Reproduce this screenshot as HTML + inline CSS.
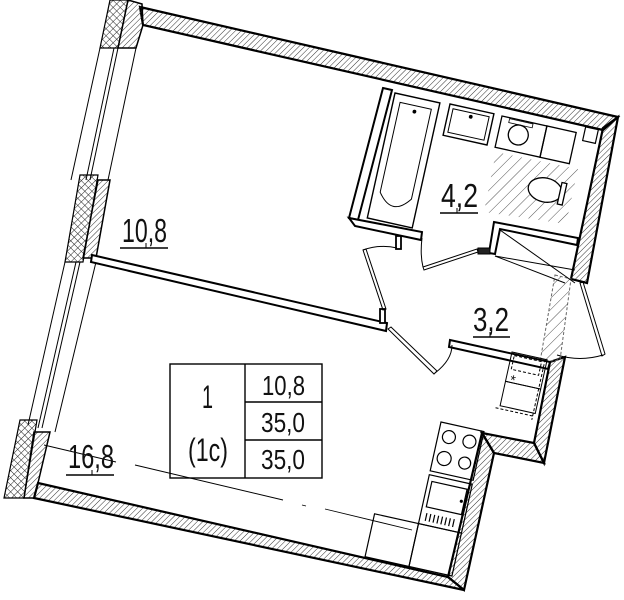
<!DOCTYPE html>
<html><head><meta charset="utf-8"><style>
html,body{margin:0;padding:0;background:#fff;}
svg{display:block;}
text{font-family:"Liberation Sans",sans-serif;fill:#111;}
</style></head><body>
<svg width="624" height="600" viewBox="0 0 624 600" xmlns="http://www.w3.org/2000/svg">
<defs>
<pattern id="h" width="4" height="4" patternUnits="userSpaceOnUse" patternTransform="rotate(45)">
<line x1="0" y1="0" x2="0" y2="4" stroke="#333" stroke-width="1"/></pattern>
<pattern id="x" width="5" height="5" patternUnits="userSpaceOnUse" patternTransform="rotate(45)">
<line x1="0" y1="0" x2="0" y2="5" stroke="#222" stroke-width="1"/><line x1="0" y1="0" x2="5" y2="0" stroke="#222" stroke-width="1"/></pattern>
<pattern id="hw" width="8" height="8" patternUnits="userSpaceOnUse" patternTransform="rotate(45)">
<line x1="0" y1="0" x2="0" y2="8" stroke="#555" stroke-width="1"/></pattern>
</defs>
<g stroke="#000" stroke-linejoin="miter">
<polygon points="140,7 618,117 603,130 143,25" fill="url(#h)" stroke-width="2.2"/>
<polygon points="618,117 587,283 571,279 603,128" fill="url(#h)" stroke-width="2.2"/>
<polygon points="565,357 544,463 534,443 550,362" fill="url(#h)" stroke-width="2.2"/>
<polygon points="482,433 534,443 544,463 494,453" fill="url(#h)" stroke-width="2.2"/>
<polygon points="482,433 494,453 464,590 448,577" fill="url(#h)" stroke-width="2.2"/>
<polygon points="38,483 448,577 464,590 34,498" fill="url(#h)" stroke-width="2.2"/>
<polygon points="110,0 128,0 118,48 100,48" fill="url(#x)" stroke-width="1.2"/>
<polygon points="128,0 142,4 143,25 136,48 118,48" fill="url(#h)" stroke-width="1.5"/>
<polygon points="80,175 98,175 83,262 65,262" fill="url(#x)" stroke-width="1.2"/>
<polygon points="98,180 110,180 96,258 83,258" fill="url(#h)" stroke-width="1.5"/>
<polygon points="20,420 37,420 24,498 4,498" fill="url(#x)" stroke-width="1.2"/>
<polygon points="34,432 50,432 38,483 34,498 24,498" fill="url(#h)" stroke-width="1.5"/>
<g stroke-width="1" fill="none">
<line x1="100" y1="48" x2="71" y2="180"/><line x1="136" y1="48" x2="108" y2="180"/>
<line x1="118" y1="48" x2="90" y2="180"/><line x1="114" y1="48" x2="86" y2="180"/>
<line x1="65" y1="262" x2="28" y2="425"/><line x1="96" y1="262" x2="55" y2="432"/>
<line x1="80" y1="262" x2="42" y2="428"/><line x1="76" y1="262" x2="38" y2="428"/>
</g>
<polygon points="555,275 571,279 560,360 540,362" fill="url(#hw)" stroke="#666" stroke-width="1" stroke-dasharray="3,2"/>
<polygon points="92,255 387,323 386,331 91,262" fill="#fff" stroke-width="2"/>
<polygon points="383,88 392,90 358,220 349,218" fill="#fff" stroke-width="2"/>
<polygon points="349,218 422,232 421,240 355,226" fill="#fff" stroke-width="2"/>
<rect x="396" y="236" width="5" height="13" fill="#fff" stroke-width="1.8"/>
<rect x="380" y="309" width="5" height="14" fill="#fff" stroke-width="1.8"/>
<polygon points="494,222 578,238 577,245 500,229 495,254 489,253" fill="#fff" stroke-width="2"/>
<rect x="478" y="248" width="12" height="6" fill="#222" stroke-width="1"/>
<polygon points="450,340 550,362 548,369 449,347" fill="#fff" stroke-width="2"/>
<g fill="none" stroke-width="1">
<polygon points="363,250 366,249 386,309 383,310"/>
<path d="M363,250 Q380,244 397,248"/>
<polygon points="388,329 391,327 437,371 434,374"/>
<path d="M435,373 Q452,360 452,345"/>
<polygon points="423,267 477,249 478,252 424,270"/>
<path d="M422,238 Q420,255 423,267"/>
<polygon points="580,283 583,282 605,354 602,356"/>
<path d="M603,355 Q580,362 557,355"/>
<line x1="500" y1="230" x2="575" y2="283"/>
<line x1="495" y1="256" x2="575" y2="270"/>
<line x1="495" y1="256" x2="565" y2="283"/>
</g>
<g transform="translate(395,93) rotate(12.5)" fill="none" stroke-width="1.4">
<rect x="0" y="0" width="46" height="128"/>
<path d="M7,8 L39,8 L39,100 Q23,122 7,100 Z" stroke-width="1"/>
<circle cx="23" cy="14" r="1.2" fill="#000"/>
</g>
<g transform="translate(450,104) rotate(12.5)" fill="none" stroke-width="1.4">
<rect x="0" y="0" width="45" height="32"/><rect x="4" y="4" width="37" height="24" stroke-width="1"/>
<circle cx="23" cy="8" r="1.2" fill="#000"/>
</g>
<polygon points="496,152 578,169 566,224 484,212" fill="url(#hw)" stroke="none"/>
<g transform="translate(502,116) rotate(12.5)" fill="none" stroke-width="1.3">
<rect x="0" y="0" width="46" height="32"/><rect x="46" y="0" width="30" height="32"/>
<circle cx="20" cy="15" r="10"/><rect x="8" y="1" width="24" height="4" stroke-width="0.8"/>
</g>
<g transform="translate(545,190) rotate(12.5)" fill="#fff" stroke-width="1.3">
<ellipse cx="0" cy="0" rx="17" ry="12"/><rect x="15" y="-11" width="5" height="22"/>
</g>
<rect x="584" y="128" width="13" height="14" fill="#fff" stroke-width="1.2" transform="rotate(12.5 590 135)"/>
<g transform="translate(441,422) rotate(12.5)" fill="none" stroke-width="1.2">
<rect x="0" y="0" width="44" height="50"/>
<circle cx="11" cy="13" r="6.5"/><circle cx="32" cy="13" r="6.5"/>
<circle cx="11" cy="35" r="7"/><circle cx="32" cy="35" r="6"/>
<rect x="0" y="54" width="44" height="50"/><rect x="4" y="60" width="36" height="26"/>
<circle cx="37" cy="73" r="1" fill="#000"/>
<path d="M6,92 v8 M10,92 v8 M14,92 v8 M18,92 v8 M22,92 v8 M26,92 v8 M30,92 v8 M34,92 v8"/>
<rect x="0" y="104" width="44" height="44"/>
<rect x="-45" y="104" width="45" height="44"/>
</g>
<g transform="translate(512,352) rotate(12.5)" fill="none" stroke-width="1">
<rect x="0" y="0" width="36" height="30"/><rect x="0" y="30" width="36" height="25"/>
<rect x="3" y="3" width="28" height="14" stroke-dasharray="3,2"/>
<text x="4" y="32" font-size="14" stroke="none">*</text>
<path d="M-4,58 h40 M34,0 v62" stroke-dasharray="3,2"/>
</g>
<g stroke-width="0.9" fill="none">
<line x1="44" y1="445" x2="116" y2="462"/>
<line x1="135" y1="465" x2="283" y2="500"/>
<line x1="302" y1="505" x2="306" y2="506"/>
<line x1="325" y1="509" x2="412" y2="530"/>
</g>
<g fill="none" stroke-width="1.4">
<rect x="170" y="364" width="152" height="114"/>
<line x1="245" y1="364" x2="245" y2="478"/>
<line x1="245" y1="402" x2="322" y2="402"/>
<line x1="245" y1="440" x2="322" y2="440"/>
</g>
<g stroke-width="1.6">
<line x1="120" y1="248" x2="168" y2="248"/><line x1="146" y1="248" x2="146" y2="243" stroke-width="1"/>
<line x1="440" y1="213" x2="478" y2="213"/><line x1="457" y1="213" x2="457" y2="208" stroke-width="1"/>
<line x1="473" y1="337" x2="510" y2="337"/><line x1="490" y1="337" x2="490" y2="332" stroke-width="1"/>
<line x1="66" y1="475" x2="114" y2="475"/><line x1="92" y1="475" x2="92" y2="470" stroke-width="1"/>
</g>
</g>
<g font-size="33" stroke="none">
<text x="122" y="242" textLength="45" lengthAdjust="spacingAndGlyphs">10,8</text>
<text x="441" y="207" textLength="37" lengthAdjust="spacingAndGlyphs">4,2</text>
<text x="473" y="331" textLength="36" lengthAdjust="spacingAndGlyphs">3,2</text>
<text x="68" y="468" textLength="46" lengthAdjust="spacingAndGlyphs">16,8</text>
</g>
<g stroke="none">
<text x="202" y="408" font-size="32" textLength="11" lengthAdjust="spacingAndGlyphs">1</text>
<text x="188" y="461" font-size="32" textLength="40" lengthAdjust="spacingAndGlyphs">(1с)</text>
<text x="262" y="395" font-size="28" textLength="43" lengthAdjust="spacingAndGlyphs">10,8</text>
<text x="261" y="432" font-size="28" textLength="44" lengthAdjust="spacingAndGlyphs">35,0</text>
<text x="261" y="469" font-size="28" textLength="44" lengthAdjust="spacingAndGlyphs">35,0</text>
</g>
</svg>
</body></html>
